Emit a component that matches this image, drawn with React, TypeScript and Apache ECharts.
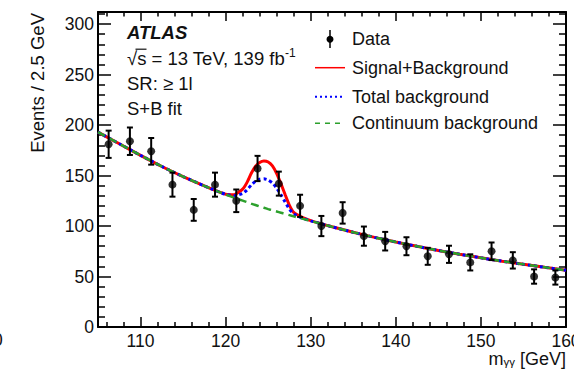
import React, { useEffect, useRef } from 'react';
import * as echarts from 'echarts';

const dataX = [106.25, 108.75, 111.25, 113.75, 116.25, 118.75, 121.25, 123.75, 126.25, 128.75, 131.25, 133.75, 136.25, 138.75, 141.25, 143.75, 146.25, 148.75, 151.25, 153.75, 156.25, 158.75];
const dataY = [181, 184, 174, 141, 116, 141, 125, 157, 142, 120, 100, 113, 90, 85, 80, 70, 72, 64, 75, 66, 50, 49];
const dataErr = [13.5, 13.6, 13.2, 11.9, 10.8, 11.9, 11.2, 12.5, 11.9, 11, 10, 10.6, 9.5, 9.2, 8.9, 8.4, 8.5, 8, 8.7, 8.1, 7.1, 7];

const curveX = [105, 107.5, 110, 112.5, 115, 117.5, 119, 120, 121, 122, 122.5, 123, 123.5, 124, 124.5, 125, 125.5, 126, 126.5, 127, 127.5, 128, 129, 130, 132.5, 135, 137.5, 140, 142.5, 145, 147.5, 150, 152.5, 155, 157.5, 160];
const continuum = [193, 181.5, 170, 159, 149, 139.7, 134.5, 131.2, 128.1, 125.2, 123.7, 122.2, 120.8, 119.4, 118.1, 116.8, 115.6, 114.4, 113.2, 112, 110.8, 109.6, 107.3, 105, 99.3, 93.8, 88.8, 84.2, 79.9, 75.8, 72, 68.5, 65.2, 62.1, 59.1, 56.2];
const totalBkg = [193, 181.5, 170, 159, 149, 139.7, 134.5, 131.4, 129.9, 132.2, 135.6, 140.6, 144.4, 146.4, 146.8, 145.6, 142.7, 137.6, 130.9, 123.6, 116.7, 111.9, 107.9, 105.1, 99.3, 93.8, 88.8, 84.2, 79.9, 75.8, 72, 68.5, 65.2, 62.1, 59.1, 56.2];
const sigPlusBkg = [193, 181.5, 170, 159, 149, 139.7, 134.5, 131.5, 131, 136.5, 143, 152, 159, 163, 164.5, 163.5, 159.5, 152, 142, 131, 120.5, 113.5, 108.5, 105.3, 99.3, 93.8, 88.8, 84.2, 79.9, 75.8, 72, 68.5, 65.2, 62.1, 59.1, 56.2];

const xMajorTicks = [110, 120, 130, 140, 150, 160];
const xMinorTicks = [106, 108, 112, 114, 116, 118, 122, 124, 126, 128, 132, 134, 136, 138, 142, 144, 146, 148, 152, 154, 156, 158];
const yMajorTicks = [0, 50, 100, 150, 200, 250, 300];
const yMinorTicks = [10, 20, 30, 40, 60, 70, 80, 90, 110, 120, 130, 140, 160, 170, 180, 190, 210, 220, 230, 240, 260, 270, 280, 290, 310];

const FONT = '"Liberation Sans", Arial, Helvetica, sans-serif';
const TXT = '#111';

function xAx(pos: string, ticks: number[], len: number, main: boolean) {
  return {
    type: 'value', position: pos, min: 105, max: 160,
    axisLine: { show: main, onZero: false, lineStyle: { color: '#000', width: 2 } },
    axisTick: { show: true, inside: true, length: len, customValues: ticks, lineStyle: { color: '#000', width: 1.5 } },
    axisLabel: { show: main && pos === 'bottom', customValues: ticks, fontSize: 17.5, color: TXT, fontFamily: FONT, margin: 5 },
    splitLine: { show: false },
  };
}
function yAx(pos: string, ticks: number[], len: number, main: boolean) {
  return {
    type: 'value', position: pos, min: 0, max: 312,
    axisLine: { show: main, onZero: false, lineStyle: { color: '#000', width: 2 } },
    axisTick: { show: true, inside: true, length: len, customValues: ticks, lineStyle: { color: '#000', width: 1.5 } },
    axisLabel: { show: main && pos === 'left', customValues: ticks, fontSize: 17.5, color: TXT, fontFamily: FONT, margin: 4 },
    splitLine: { show: false },
  };
}

function txt(x: number, y: number, text: string, extra: any = {}) {
  return {
    type: 'text', x, y, silent: true,
    style: { text, fill: TXT, fontSize: 18.5, fontFamily: FONT, textAlign: 'left', textVerticalAlign: 'middle', align: 'left', verticalAlign: 'middle', ...extra },
  };
}

export default function App() {
  const ref = useRef<HTMLDivElement>(null);
  useEffect(() => {
    if (!ref.current) return;
    const chart = echarts.init(ref.current, null, { renderer: 'svg' });
    const pts = dataX.map((x, i) => [x, dataY[i]]);
    const errs = dataX.map((x, i) => [x, dataY[i] - dataErr[i], dataY[i] + dataErr[i]]);
    const line = (vals: number[]) => curveX.map((x, i) => [x, vals[i]]);
    const legX1 = 315, legX2 = 345, legT = 352;
    const option: any = {
      animation: false,
      backgroundColor: '#fff',
      textStyle: { fontFamily: FONT },
      grid: { left: 98, right: 8, top: 12, bottom: 42, containLabel: false, outerBoundsMode: 'none' },
      xAxis: [
        xAx('bottom', xMajorTicks, 10, true),
        xAx('bottom', xMinorTicks, 5, false),
        xAx('top', xMajorTicks, 9, true),
        xAx('top', xMinorTicks, 4.5, false),
      ],
      yAxis: [
        yAx('left', yMajorTicks, 13, true),
        yAx('left', yMinorTicks, 7, false),
        yAx('right', yMajorTicks, 13, true),
        yAx('right', yMinorTicks, 7, false),
      ],
      series: [
        {
          type: 'line', name: 'Signal+Background', data: line(sigPlusBkg), showSymbol: false, smooth: 0.15,
          lineStyle: { color: '#ff0000', width: 3 }, z: 2,
        },
        {
          type: 'line', name: 'Total background', data: line(totalBkg), showSymbol: false, smooth: 0.15,
          lineStyle: { color: '#0000ff', width: 3, type: [3, 3] }, z: 3,
        },
        {
          type: 'line', name: 'Continuum background', data: line(continuum), showSymbol: false, smooth: 0.15,
          lineStyle: { color: '#2ca02c', width: 2.5, type: [8, 5] }, z: 4,
        },
        {
          type: 'custom', name: 'Data errors', data: errs, encode: { x: 0, y: [1, 2] }, z: 5,
          renderItem: (params: any, api: any) => {
            const x = api.value(0);
            const lo = api.coord([x, api.value(1)]);
            const hi = api.coord([x, api.value(2)]);
            const st = { stroke: '#000', lineWidth: 2 };
            return {
              type: 'group',
              children: [
                { type: 'line', shape: { x1: hi[0], y1: hi[1], x2: lo[0], y2: lo[1] }, style: st },
                { type: 'line', shape: { x1: hi[0] - 3, y1: hi[1], x2: hi[0] + 3, y2: hi[1] }, style: st },
                { type: 'line', shape: { x1: lo[0] - 3, y1: lo[1], x2: lo[0] + 3, y2: lo[1] }, style: st },
              ],
            };
          },
        },
        {
          type: 'scatter', name: 'Data', data: pts, symbol: 'circle', symbolSize: 8, z: 6,
          itemStyle: { color: '#000' },
        },
      ],
      graphic: [
        txt(127, 32.5, 'ATLAS', { fontSize: 18.5, fontWeight: 'bold', fontStyle: 'italic' }),
        {
          type: 'text', x: 127, y: 57.5, silent: true,
          style: {
            text: '{m|√s = 13 TeV, 139 fb}{s|-1}', fill: TXT, fontFamily: FONT, textAlign: 'left', textVerticalAlign: 'middle', align: 'left', verticalAlign: 'middle',
            rich: {
              m: { fontSize: 18.5, lineHeight: 21, fontFamily: FONT, fill: TXT, verticalAlign: 'bottom' },
              s: { fontSize: 12, lineHeight: 14, fontFamily: FONT, fill: TXT, verticalAlign: 'top' },
            },
          },
        },
        { type: 'line', silent: true, shape: { x1: 135.5, y1: 49.2, x2: 146.5, y2: 49.2 }, style: { stroke: TXT, lineWidth: 1.2 } },
        txt(127, 83, 'SR: ≥ 1l'),
        txt(127, 108.3, 'S+B fit'),
        // legend
        { type: 'line', silent: true, shape: { x1: 330, y1: 30, x2: 330, y2: 48 }, style: { stroke: '#000', lineWidth: 1.5 } },
        { type: 'circle', silent: true, shape: { cx: 330, cy: 39.3, r: 3.5 }, style: { fill: '#000' } },
        txt(legT, 39.3, 'Data', { fontSize: 18 }),
        { type: 'line', silent: true, shape: { x1: legX1, y1: 67.7, x2: legX2, y2: 67.7 }, style: { stroke: '#ff0000', lineWidth: 1.5 } },
        txt(legT, 67.7, 'Signal+Background', { fontSize: 18 }),
        { type: 'line', silent: true, shape: { x1: legX1, y1: 96.7, x2: legX2, y2: 96.7 }, style: { stroke: '#0000ff', lineWidth: 2, lineDash: [2, 3] } },
        txt(legT, 96.7, 'Total background', { fontSize: 18 }),
        { type: 'line', silent: true, shape: { x1: legX1, y1: 123.3, x2: legX2, y2: 123.3 }, style: { stroke: '#2ca02c', lineWidth: 1.5, lineDash: [5, 5] } },
        txt(legT, 123.3, 'Continuum background', { fontSize: 18 }),
        // axis titles
        {
          type: 'text', x: 37, y: 13, rotation: Math.PI / 2, silent: true,
          style: { text: 'Events / 2.5 GeV', fill: TXT, fontSize: 18.5, fontFamily: FONT, textAlign: 'right', textVerticalAlign: 'middle', align: 'right', verticalAlign: 'middle' },
        },
        {
          type: 'text', x: 566, y: 359, silent: true,
          style: {
            text: '{m|m}{s|γγ}{m| [GeV]}', fill: TXT, fontFamily: FONT, textAlign: 'right', textVerticalAlign: 'middle', align: 'right', verticalAlign: 'middle',
            rich: {
              m: { fontSize: 18, lineHeight: 18, fontFamily: FONT, fill: TXT, verticalAlign: 'top' },
              s: { fontSize: 11.5, lineHeight: 12, fontFamily: FONT, fill: TXT, verticalAlign: 'bottom', padding: [8, 0, 0, 0] },
            },
          },
        },
        txt(-7, 340, '0', { fontSize: 17.5 }),
      ],
    };
    chart.setOption(option);
    return () => chart.dispose();
  }, []);
  return <div ref={ref} style={{ position: 'fixed', left: 0, top: 0, width: 574, height: 369, background: '#fff' }} />;
}
